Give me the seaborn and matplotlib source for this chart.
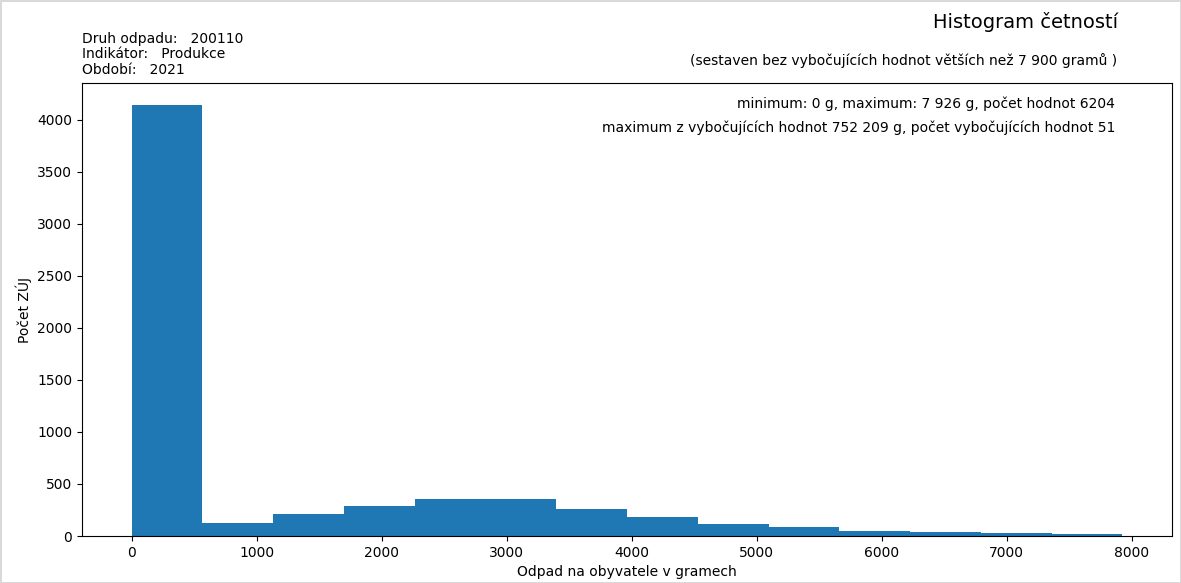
import numpy as np
import pandas as pd
import matplotlib
matplotlib.use('Agg')
import matplotlib.pyplot as plt
import seaborn as sns

# histogram data (14 bins between min and max)
val_min = 0
val_max = 7926
counts = [4145, 128, 214, 291, 356, 356, 263, 183, 119, 87, 51, 42, 32, 19]

druh = '200110'
indikator = 'Produkce'
obdobi = '2021'

edges = np.linspace(val_min, val_max, len(counts) + 1)
centers = (edges[:-1] + edges[1:]) / 2
df = pd.DataFrame({'odpad': centers, 'pocet': counts})

plt.rcParams['font.family'] = ['DejaVu Sans']
fig = plt.figure(figsize = (11.81, 5.83), dpi = 100)
fig.patch.set_edgecolor('#d9d9d9')
fig.patch.set_linewidth(2)
ax = fig.add_axes([0.0694, 0.0806, 0.923, 0.777])

sns.histplot(data = df, x = 'odpad', weights = 'pocet', bins = edges.tolist(), ax = ax,
             color = '#1f77b4', alpha = 1, linewidth = 0, element = 'bars')

ax.set_xlabel('Odpad na obyvatele v gramech')
ax.set_ylabel('Počet ZÚJ')
ax.margins(x = 0.05, y = 0.05)
ax.set_ylim(bottom = 0)

# info texts
fig.text(0.0694, 0.927, 'Druh odpadu:   ' + druh, fontsize = 10, va = 'baseline')
fig.text(0.0694, 0.900, 'Indikátor:   ' + indikator, fontsize = 10, va = 'baseline')
fig.text(0.0694, 0.873, 'Období:   ' + obdobi, fontsize = 10, va = 'baseline')
fig.text(0.947, 0.952, 'Histogram četností', fontsize = 14, ha = 'right', va = 'baseline')
fig.text(0.946, 0.888, '(sestaven bez vybočujících hodnot větších než 7 900 gramů )',
         fontsize = 10, ha = 'right', va = 'baseline')
ax.text(0.948, 0.955, 'minimum: 0 g, maximum: 7 926 g, počet hodnot 6204',
        transform = ax.transAxes, ha = 'right', va = 'center', fontsize = 10)
ax.text(0.948, 0.902, 'maximum z vybočujících hodnot 752 209 g, počet vybočujících hodnot 51',
        transform = ax.transAxes, ha = 'right', va = 'center', fontsize = 10)

plt.savefig('out.png', dpi = 100)
